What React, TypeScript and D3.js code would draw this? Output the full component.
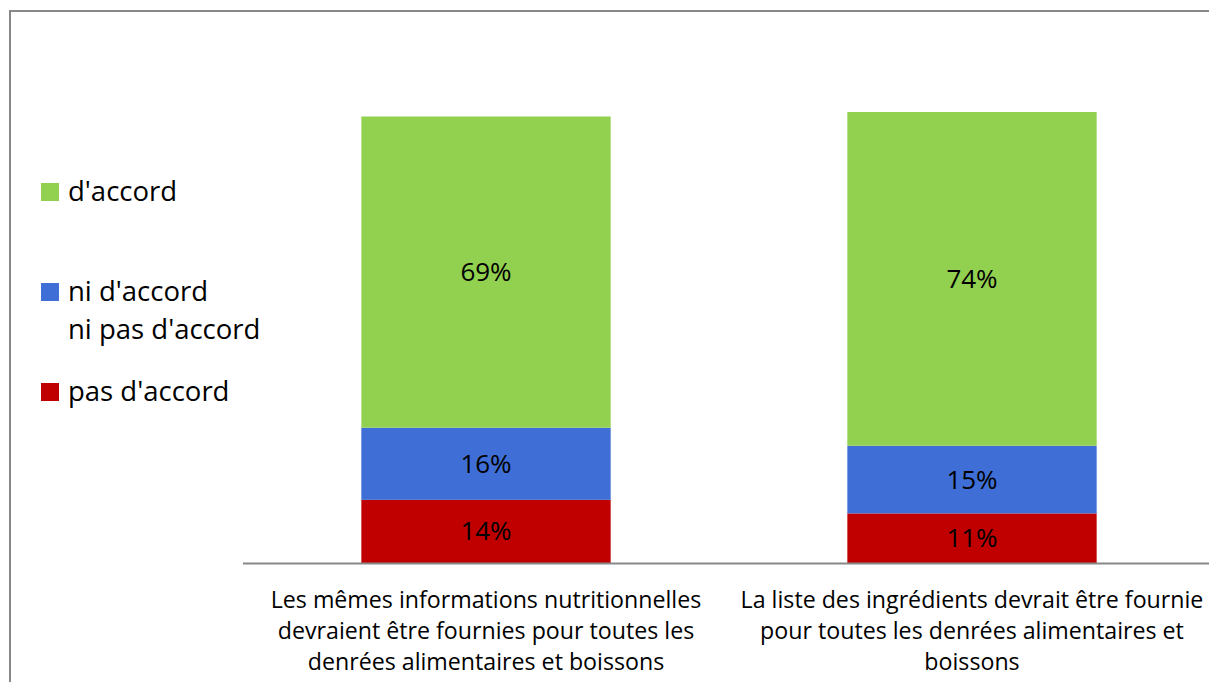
import React from 'react';
import * as d3 from 'd3';

const categories = [
  ['Les mêmes informations nutritionnelles', 'devraient être fournies pour toutes les', 'denrées alimentaires et boissons'],
  ['La liste des ingrédients devrait être fournie', 'pour toutes les denrées alimentaires et', 'boissons'],
];
const seriesNames = ['pas d\'accord', 'ni d\'accord ni pas d\'accord', 'd\'accord'];
const pasDaccord = [14, 11];
const niNi = [16, 15];
const daccord = [69, 74];
const colors = ['#c00000', '#3f6fd6', '#92d050'];

const W = 1209;
const H = 682;
const FONT = '"Open Sans", sans-serif';

export default function App() {
  const x = d3.scaleBand<number>()
    .domain([0, 1])
    .range([243, 1215])
    .paddingInner(0.487)
    .paddingOuter(0.2435);
  const y = d3.scaleLinear().domain([0, 100]).range([563, 112]);

  const rows = categories.map((_, i) => ({ i, pas: pasDaccord[i], ni: niNi[i], ok: daccord[i] }));
  const stack = d3.stack<any>().keys(['pas', 'ni', 'ok'])(rows);

  return (
    <svg width={W} height={H} style={{ position: 'absolute', left: 0, top: 0, fontFamily: FONT }}>
      <rect x={0} y={0} width={W} height={H} fill="#fff" />
      <path d={`M10,${H + 5}V11H${W + 5}`} fill="none" stroke="#888" strokeWidth={2} />

      {stack.map((s, si) => (
        <g key={si}>
          {s.map((d, di) => {
            const y0 = y(d[0]);
            const y1 = y(d[1]);
            return (
              <g key={di}>
                <rect x={x(di)} y={y1} width={x.bandwidth()} height={y0 - y1} fill={colors[si]} />
                <text x={(x(di) as number) + x.bandwidth() / 2} y={(y0 + y1) / 2 + 9}
                  textAnchor="middle" fontSize={26} fill="#000">
                  {`${d[1] - d[0]}%`}
                </text>
              </g>
            );
          })}
        </g>
      ))}

      <line x1={243} x2={W} y1={563.5} y2={563.5} stroke="#888" strokeWidth={2} />

      {categories.map((lines, i) => (
        <text key={i} textAnchor="middle" fontSize={23.2} fill="#000">
          {lines.map((l, li) => (
            <tspan key={li} x={(x(i) as number) + x.bandwidth() / 2} y={608 + li * 31}>{l}</tspan>
          ))}
        </text>
      ))}

      <g fontSize={27.5} fill="#000">
        <rect x={41} y={183} width={18} height={18} fill={colors[2]} />
        <text x={68} y={201}>{seriesNames[2]}</text>
        <rect x={41} y={283} width={18} height={18} fill={colors[1]} />
        <text x={68} y={301}>ni d'accord</text>
        <text x={68} y={339}>ni pas d'accord</text>
        <rect x={41} y={383} width={18} height={18} fill={colors[0]} />
        <text x={68} y={401}>{seriesNames[0]}</text>
      </g>
    </svg>
  );
}
